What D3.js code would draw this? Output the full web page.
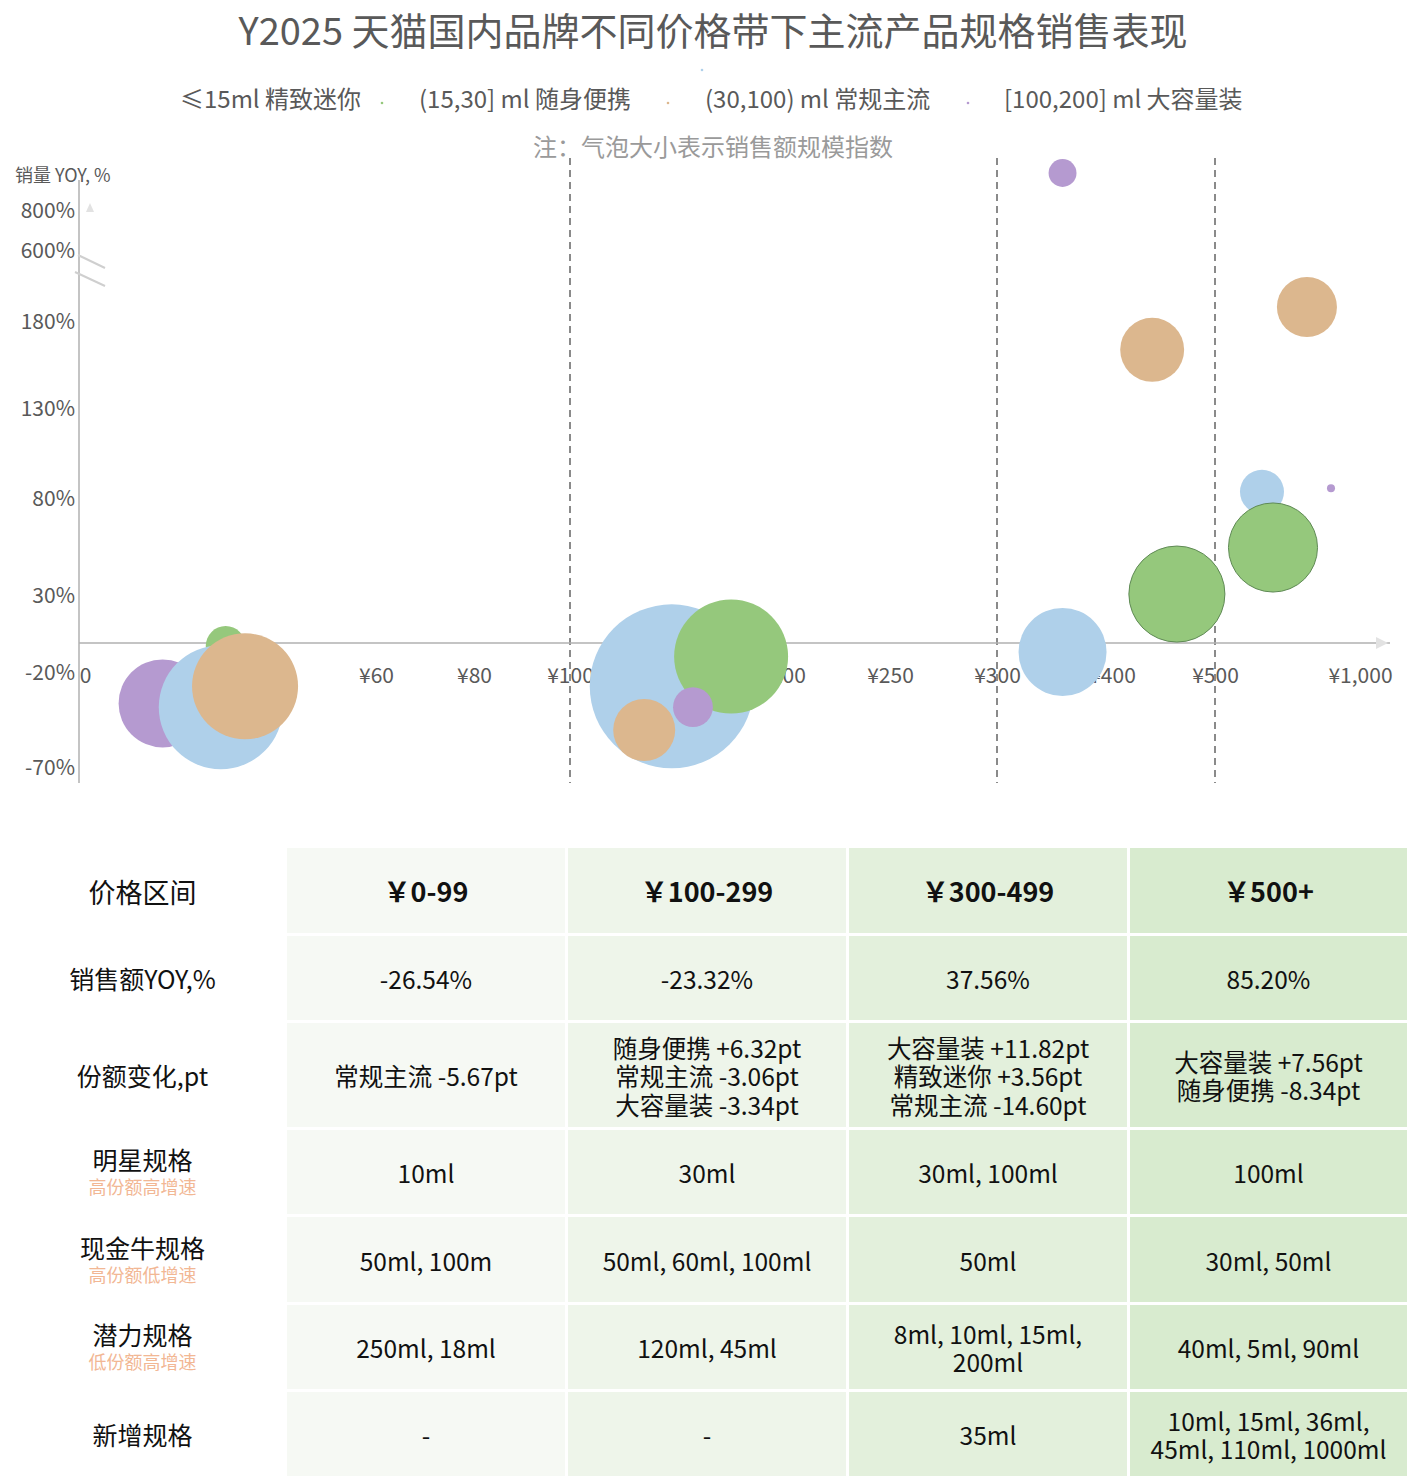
<!DOCTYPE html>
<html>
<head>
<meta charset="utf-8">
<script src="https://cdn.jsdelivr.net/npm/d3@7"></script>
<style>
  body { margin: 0; background: #fff; }
  svg { display: block; font-family: "Noto Sans CJK SC", "Noto Sans", sans-serif; }
</style>
</head>
<body>
<div id="chart"></div>
<script>
// ---- data ----
var seriesNames = ["≤15ml 精致迷你", "(15,30] ml 随身便携", "(30,100) ml 常规主流", "[100,200] ml 大容量装"];
var seriesColors = ["#b59ad0", "#afd0ea", "#95c87c", "#dcb78e"];

// bubbles, in drawing order (series index, avg price, 销量YOY %, 销售额规模指数)
var bubbleSeries = [2, 0, 1, 3,   1, 2, 3, 0,   0, 3, 2, 1,   3, 1, 0, 2];
var bubblePrice  = [29, 16, 28, 33,   148, 176, 135, 158,   357, 439, 463, 357,   817, 662, 900, 700];
var bubbleYoy    = [-2, -36, -38, -27,   -27, -9, -50, -38,   990, 164, 31, -6,   269, 84, 86, 55];
var bubbleSize   = [5.9, 28.8, 57.2, 41.8,   100, 48.3, 14.3, 5.9,   2.9, 15.2, 34.3, 28.8,   13.4, 7.2, 0.24, 29.5];

var xTicks = [0, 60, 80, 100, 200, 250, 300, 400, 500, 1000];
var yTicks = [-70, -20, 0, 30, 80, 130, 180, 600, 800];
var yLabelTicks = [800, 600, 180, 130, 80, 30, -20, -70];
var bandEdges = [100, 300, 500];

// table
var priceBands = ["￥0-99", "￥100-299", "￥300-499", "￥500+"];
var rowLabels = ["价格区间", "销售额YOY,%", "份额变化,pt", "明星规格", "现金牛规格", "潜力规格", "新增规格"];
var rowSubLabels = ["", "", "", "高份额高增速", "高份额低增速", "低份额高增速", ""];
var salesYoy = ["-26.54%", "-23.32%", "37.56%", "85.20%"];
var shareChange = [
  ["常规主流 -5.67pt"],
  ["随身便携 +6.32pt", "常规主流 -3.06pt", "大容量装 -3.34pt"],
  ["大容量装 +11.82pt", "精致迷你 +3.56pt", "常规主流 -14.60pt"],
  ["大容量装 +7.56pt", "随身便携 -8.34pt"]
];
var starSpecs = [["10ml"], ["30ml"], ["30ml, 100ml"], ["100ml"]];
var cashSpecs = [["50ml, 100m"], ["50ml, 60ml, 100ml"], ["50ml"], ["30ml, 50ml"]];
var potentialSpecs = [["250ml, 18ml"], ["120ml, 45ml"], ["8ml, 10ml, 15ml,", "200ml"], ["40ml, 5ml, 90ml"]];
var newSpecs = [["-"], ["-"], ["35ml"], ["10ml, 15ml, 36ml,", "45ml, 110ml, 1000ml"]];

// ---- layout ----
var W = 1407, H = 1476;
var svg = d3.select("#chart").append("svg").attr("width", W).attr("height", H);

var textGray = "#595959";

// title
svg.append("text").attr("x", 713).attr("y", 28).attr("text-anchor", "middle")
  .attr("dominant-baseline", "central").attr("font-size", 38).attr("fill", textGray)
  .text("Y2025 天猫国内品牌不同价格带下主流产品规格销售表现");

// legend (markers are tiny, as in the source)
var legendX = [180, 419, 705, 1004];
svg.selectAll(".leg").data(seriesNames).enter().append("text")
  .attr("x", function(d, i){ return legendX[i]; }).attr("y", 97)
  .attr("dominant-baseline", "central").attr("font-size", 24).attr("fill", textGray)
  .text(function(d){ return d; });
var legendDots = [[702, 70], [382, 103], [668, 103], [968, 103]];
svg.selectAll(".legdot").data(legendDots).enter().append("circle")
  .attr("cx", function(d){ return d[0]; }).attr("cy", function(d){ return d[1]; })
  .attr("r", 1.3).attr("fill", function(d, i){ return seriesColors[(i + 1) % 4]; });

svg.append("text").attr("x", 713).attr("y", 145).attr("text-anchor", "middle")
  .attr("dominant-baseline", "central").attr("font-size", 24).attr("fill", "#9a9a9a")
  .text("注：气泡大小表示销售额规模指数");

// scales (piecewise, matching the uneven axis of the source)
var x = d3.scaleLinear()
  .domain(xTicks)
  .range([85, 376, 474, 570, 782, 890, 997, 1112, 1215, 1360]);
var y = d3.scaleLinear()
  .domain(yTicks)
  .range([768, 673, 643, 596, 499, 409, 322, 251, 211]);
var r = d3.scaleSqrt().domain([0, 100]).range([0, 82]);

var axisX0 = 79;

// axis labels (drawn first, bubbles sit on top of them)
var gx = svg.append("g").attr("transform", "translate(0," + y(0) + ")")
  .call(d3.axisBottom(x).tickValues(xTicks).tickSize(0).tickPadding(25)
    .tickFormat(function(d){ return d === 0 ? "0" : "¥" + d3.format(",")(d); }));
gx.select(".domain").remove();
gx.selectAll("text").attr("font-size", 21).attr("fill", textGray)
  .attr("font-family", "\"Noto Sans CJK SC\", sans-serif");

var gy = svg.append("g").attr("transform", "translate(" + (axisX0 - 4) + ",0)")
  .call(d3.axisLeft(y).tickValues(yLabelTicks).tickSize(0).tickPadding(0)
    .tickFormat(function(d){ return d + "%"; }));
gy.select(".domain").remove();
gy.selectAll("text").attr("font-size", 21).attr("fill", textGray)
  .attr("font-family", "\"Noto Sans CJK SC\", sans-serif");

svg.append("text").attr("x", 15).attr("y", 174).attr("dominant-baseline", "central")
  .attr("font-size", 18).attr("fill", textGray).text("销量 YOY, %");

// dashed band separators
svg.selectAll(".band").data(bandEdges).enter().append("line")
  .attr("x1", function(d){ return x(d); }).attr("x2", function(d){ return x(d); })
  .attr("y1", 158).attr("y2", 783)
  .attr("stroke", "#8a8a8a").attr("stroke-width", 2).attr("stroke-dasharray", "7,5");

// axis lines
svg.append("line").attr("x1", axisX0).attr("x2", axisX0).attr("y1", 180).attr("y2", 783)
  .attr("stroke", "#b0b0b0").attr("stroke-width", 1.5);
svg.append("line").attr("x1", axisX0).attr("x2", 1390).attr("y1", y(0)).attr("y2", y(0))
  .attr("stroke", "#b0b0b0").attr("stroke-width", 1.5);
svg.append("path").attr("d", "M1376,637 L1388,643 L1376,649 Z").attr("fill", "#e2e2e2");
svg.append("path").attr("d", "M86,212 L90,203 L94,212 Z").attr("fill", "#e2e2e2");

// axis break marks
svg.append("line").attr("x1", 78).attr("y1", 255).attr("x2", 105).attr("y2", 268)
  .attr("stroke", "#cfcfcf").attr("stroke-width", 2);
svg.append("line").attr("x1", 75).attr("y1", 272).attr("x2", 105).attr("y2", 286)
  .attr("stroke", "#cfcfcf").attr("stroke-width", 2);

// bubbles
var idx = d3.range(bubbleSeries.length);
svg.append("g").selectAll("circle").data(idx).enter().append("circle")
  .attr("cx", function(i){ return x(bubblePrice[i]); })
  .attr("cy", function(i){ return y(bubbleYoy[i]); })
  .attr("r", function(i){ return r(bubbleSize[i]); })
  .attr("fill", function(i){ return seriesColors[bubbleSeries[i]]; })
  .attr("stroke", function(i){ return (bubbleSeries[i] === 2 && bubblePrice[i] >= 300) ? "#5f8a55" : "none"; })
  .attr("stroke-width", 1);

// ---- table ----
var colX = [0, 287, 568, 849, 1130];
var colW = [285, 278, 278, 278, 277];
var colBg = ["#ffffff", "#f6f9f4", "#eef5ea", "#e3f0dc", "#d8ebcf"];
var rowY = [848, 936, 1023, 1130, 1217, 1305, 1392];
var rowH = [85, 84, 104, 84, 85, 84, 84];
var bodyRows = [null, salesYoy.map(function(d){ return [d]; }), shareChange, starSpecs, cashSpecs, potentialSpecs, newSpecs];

var tbl = svg.append("g");
rowY.forEach(function(ry, ri) {
  colX.forEach(function(cx, ci) {
    tbl.append("rect").attr("x", cx).attr("y", ry).attr("width", colW[ci]).attr("height", rowH[ri])
      .attr("fill", colBg[ci]);
    var mid = cx + colW[ci] / 2, cy = ry + rowH[ri] / 2;
    if (ci === 0) {
      var sub = rowSubLabels[ri];
      var lt = tbl.append("text").attr("x", mid).attr("y", sub ? cy - 13 : cy)
        .attr("text-anchor", "middle").attr("dominant-baseline", "central")
        .attr("font-size", ri === 0 ? 27 : 25).attr("fill", "#111");
      lt.append("tspan").attr("x", mid).text(rowLabels[ri]);
      if (sub) {
        lt.append("tspan").attr("x", mid).attr("dy", 27)
          .attr("font-size", 18).attr("fill", "#f2b794").text(sub);
      }
      return;
    }
    if (ri === 0) {
      tbl.append("text").attr("x", mid).attr("y", cy)
        .attr("text-anchor", "middle").attr("dominant-baseline", "central")
        .attr("font-size", 27).attr("font-weight", "bold").attr("fill", "#111")
        .text(priceBands[ci - 1]);
      return;
    }
    var lines = bodyRows[ri][ci - 1];
    var lh = 28.5;
    var ct = tbl.append("text").attr("x", mid).attr("y", cy - (lines.length - 1) / 2 * lh)
      .attr("text-anchor", "middle").attr("dominant-baseline", "central")
      .attr("font-size", 24.5).attr("fill", "#111");
    lines.forEach(function(t, li) {
      ct.append("tspan").attr("x", mid).attr("dy", li === 0 ? 0 : lh).text(t);
    });
  });
});
</script>
</body>
</html>
